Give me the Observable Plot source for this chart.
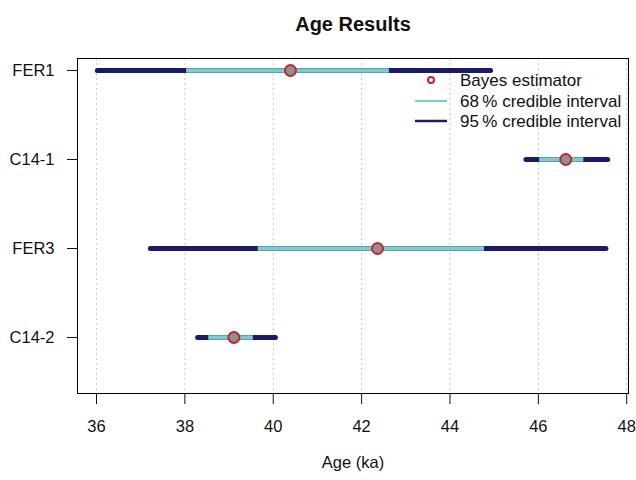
<!DOCTYPE html>
<html>
<head>
<meta charset="utf-8">
<script src="https://cdn.jsdelivr.net/npm/d3@7"></script>
<script src="https://cdn.jsdelivr.net/npm/@observablehq/plot@0.6"></script>
<style>
  html, body { margin: 0; padding: 0; background: #fff; }
  #chart { width: 636px; height: 480px; }
  svg { font-family: "Liberation Sans", Arial, sans-serif; }
</style>
</head>
<body>
<div id="chart"></div>
<script>
const samples  = ["FER1", "C14-1", "FER3", "C14-2"];
const estimate = [40.39, 46.62, 42.36, 39.11];
const lo95     = [36.03, 45.73, 37.23, 38.30];
const hi95     = [44.93, 47.58, 47.54, 40.06];
const lo68     = [38.04, 46.03, 39.66, 38.54];
const hi68     = [42.63, 47.03, 44.78, 39.55];
const xTicks   = [36, 38, 40, 42, 44, 46, 48];
const legendLabels = ["Bayes estimator", "68\u2009% credible interval", "95\u2009% credible interval"];

const rows = samples.map((s, i) => ({
  sample: s, est: estimate[i], lo95: lo95[i], hi95: hi95[i], lo68: lo68[i], hi68: hi68[i]
}));

const NAVY = "#191970", CYAN = "#79cdcd", RED = "#c0262d", GREY = "#8f8f8f";

const plot = Plot.plot({
  width: 636,
  height: 480,
  marginLeft: 77,
  marginRight: 8,
  marginTop: 58,
  marginBottom: 87,
  style: {fontFamily: "Liberation Sans, Arial, sans-serif", fontSize: "16px", color: "#111", background: "#fff"},
  x: {domain: [35.57, 48.04], ticks: xTicks, label: null},
  y: {type: "point", domain: samples, padding: 0, insetTop: 12, insetBottom: 56, label: null},
  marks: [
    Plot.gridX(xTicks, {stroke: "#c8c8c8", strokeOpacity: 1, strokeDasharray: "2,3"}),
    Plot.ruleY(rows, {y: "sample", x1: "lo95", x2: "hi95", stroke: NAVY, strokeWidth: 5, strokeLinecap: "round"}),
    Plot.ruleY(rows, {y: "sample", x1: "lo68", x2: "hi68", stroke: CYAN, strokeWidth: 4.5}),
    Plot.dot(rows, {y: "sample", x: "est", r: 5.5, fill: GREY, stroke: RED, strokeWidth: 2}),
    Plot.frame({stroke: "#000", strokeWidth: 1}),
    Plot.axisX({ticks: xTicks, tickSize: 11, tickPadding: 16, fontSize: 16.5, label: null, tickFormat: d => String(d)}),
    Plot.axisY({tickSize: 10, tickPadding: 13, fontSize: 16.5, label: null}),
    Plot.text(["Age (ka)"], {text: d => d, frameAnchor: "bottom", dy: 74, fontSize: 16.5}),
    Plot.text(["Age Results"], {text: d => d, frameAnchor: "top", dy: -42, fontSize: 20, fontWeight: "bold"})
  ]
});

document.getElementById("chart").appendChild(plot);

// Legend (inside the plotting region, top-right, no box)
const svg = d3.select(plot);
const lg = svg.append("g")
  .attr("font-family", "Liberation Sans, Arial, sans-serif")
  .attr("font-size", 17)
  .attr("text-anchor", "start");
const rowY = [80, 101, 121];
lg.append("circle").attr("cx", 431).attr("cy", rowY[0]).attr("r", 3)
  .attr("fill", "#fff").attr("stroke", RED).attr("stroke-width", 2);
lg.append("line").attr("x1", 415).attr("x2", 447).attr("y1", rowY[1]).attr("y2", rowY[1])
  .attr("stroke", CYAN).attr("stroke-width", 2.2);
lg.append("line").attr("x1", 415).attr("x2", 447).attr("y1", rowY[2]).attr("y2", rowY[2])
  .attr("stroke", NAVY).attr("stroke-width", 2.5);
lg.selectAll("text.leg").data(legendLabels).join("text")
  .attr("class", "leg")
  .attr("x", 460)
  .attr("y", (d, i) => rowY[i])
  .attr("dy", "0.35em")
  .attr("text-anchor", "start")
  .attr("fill", "#111")
  .text(d => d);
</script>
</body>
</html>
